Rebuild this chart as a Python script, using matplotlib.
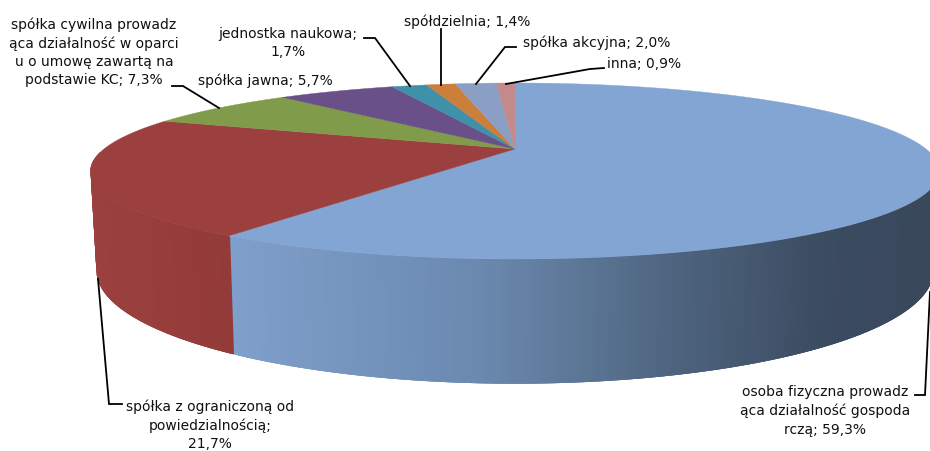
import numpy as np
import matplotlib
matplotlib.use('Agg')
import matplotlib.pyplot as plt
from matplotlib.colors import LinearSegmentedColormap

plt.rcParams['font.family'] = ['DejaVu Sans']

# slices, clockwise from 12 o'clock
values = [59.3, 21.7, 7.3, 5.7, 1.7, 1.4, 2.0, 0.9]
names = ['osoba fizyczna prowadz\nąca działalność gospoda\nrczą',
         'spółka z ograniczoną od\npowiedzialnością;\n',
         'spółka cywilna prowadz\nąca działalność w oparci\nu o umowę zawartą na\npodstawie KC',
         'spółka jawna',
         'jednostka naukowa;\n',
         'spółdzielnia',
         'spółka akcyjna',
         'inna']
top_colors = ['#83a5d3', '#9b403e', '#809c4b', '#6a5088', '#3e91a8', '#cc7e3b', '#8a9fc3', '#c28a8a']

# label centre and leader line, in picture pixels
label_xy = [(825, 411), (210, 425), (94, 52), (265, 81), (288, 43), (467, 22), (597, 43), (644, 64)]
leaders = [[(915, 396), (925, 396), (930, 293)],
           [(122, 405), (109, 405), (98, 280)],
           [(172, 87), (183, 87), (219, 109)],
           [],
           [(364, 39), (375, 39), (410, 87)],
           [(441, 30), (441, 86)],
           [(516, 48), (505, 48), (476, 85)],
           [(604, 69), (590, 70), (506, 85)]]

# shading of the outer wall, left to right
blue_x = [230, 480, 690, 830, 930]
blue_wall = ['#7fa0cc', '#6b89af', '#4c627c', '#3b4b60', '#39485b']
red_wall = ['#9b403e', '#933b39']

CX, CY = 515, 150
A, B, K = 411, 82.5, 0.25
DEPTH, SHRINK = 93.5, 0.986


def rim(t):
    # t clockwise from the back of the pie, radians
    px, py = np.sin(t), np.cos(t)
    w = 1 + K * py
    return CX + A * px / w, CY - B * py / w, w


def wall(ax, t0, t1, cmap, x0, x1, reverse=False):
    ts = np.linspace(t0, t1, 300)
    x, y, w = rim(ts)
    xb = CX + SHRINK * (x - CX)
    yb = y + DEPTH / w
    idx = range(len(ts) - 1)
    # strips overlap the next ones so no white shows through the seams
    for i in (reversed(idx) if reverse else idx):
        j = max(i - 2, 0) if reverse else min(i + 3, len(ts) - 1)
        lo, hi = min(i, j), max(i, j) + (1 if reverse else 0)
        xs, ys = np.r_[x[lo:hi + 1], xb[lo:hi + 1][::-1]], np.r_[y[lo:hi + 1], yb[lo:hi + 1][::-1]]
        ax.fill(xs, ys, color=cmap((x[i] - x0) / (x1 - x0)), lw=0, zorder=2)


fig = plt.figure(figsize=(9.3, 4.52), dpi=100)
ax = fig.add_axes([0, 0, 1, 1])
ax.set_xlim(0, 930)
ax.set_ylim(452, 0)
ax.axis('off')

edges = np.radians(np.cumsum([0] + values) / sum(values) * 360)

blue_cmap = LinearSegmentedColormap.from_list(
    'b', [((v - blue_x[0]) / (blue_x[-1] - blue_x[0]), c) for v, c in zip(blue_x, blue_wall)])
red_cmap = LinearSegmentedColormap.from_list('r', red_wall)

wall(ax, np.radians(92), edges[1], blue_cmap, blue_x[0], blue_x[-1], reverse=True)
wall(ax, edges[1] - 0.004, np.radians(268), red_cmap, 90, 235)

for i, c in enumerate(top_colors):
    ts = np.linspace(edges[i], edges[i + 1], 200)
    x, y, _ = rim(ts)
    ax.fill(np.r_[CX, x], np.r_[CY, y], color=c, lw=0.3, zorder=3)

for name, v, (lx, ly), line in zip(names, values, label_xy, leaders):
    sep = '' if name.endswith('\n') else '; '
    txt = f'{name}{sep}{v:.1f}%'.replace('.', ',')
    ax.text(lx, ly, txt, ha='center', va='center', fontsize=10, color='#111111',
            linespacing=1.38, zorder=5)
    if line:
        lxs, lys = zip(*line)
        ax.plot(lxs, lys, color='black', lw=1.3, zorder=4, solid_joinstyle='miter')

fig.savefig('out.png', dpi=100)
